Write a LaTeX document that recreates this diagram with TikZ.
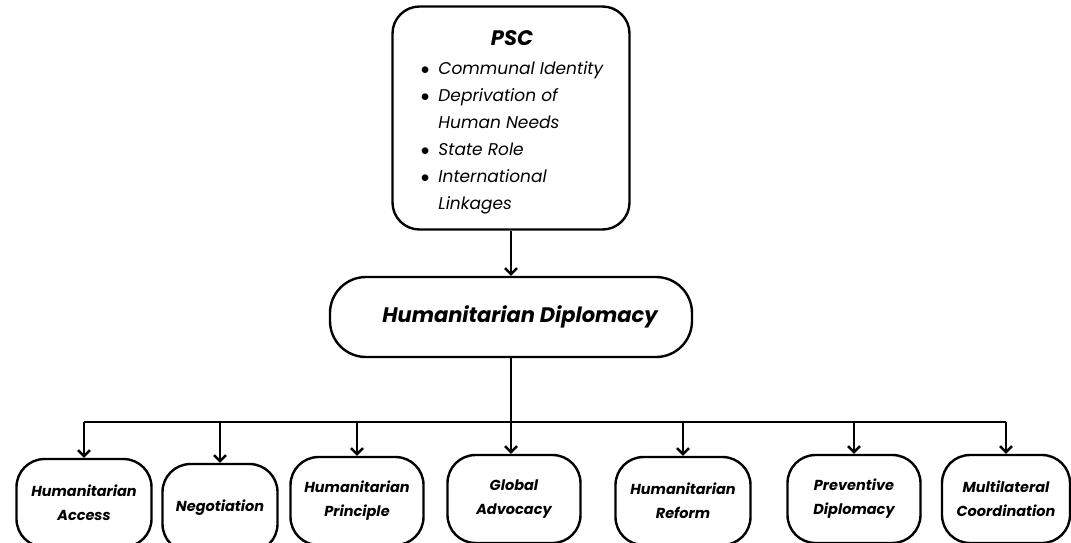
\documentclass[tikz,border=0pt]{standalone}
\usepackage{fontspec}
\setmainfont{Poppins}
\usetikzlibrary{arrows.meta, positioning}

\begin{document}
\begin{tikzpicture}[x=1pt, y=-1pt, line width=2.4pt,
    box/.style={draw, rounded corners=28pt, align=center},
    leaf/.style={box, minimum height=88pt, inner sep=2pt,
        font=\fontsize{14.5}{24}\selectfont\bfseries\itshape},
    link/.style={-{Straight Barb[length=6pt, width=12pt]}}]

        % Page frame (the bottom boxes run past the lower edge)
        \useasboundingbox (0,0) rectangle (1071,542);
        \clip (0,0) rectangle (1071,542);

        % Top box and the PSC factors inside it
        \node[box, rounded corners=27pt, minimum width=237pt, minimum height=223pt] (psc) at (511,118) {};
        \node[anchor=north, align=center, inner sep=0pt] (psclist) at (512,29)
            {{\fontsize{21}{26}\selectfont\bfseries\itshape PSC}\\[9pt]
             \fontsize{17}{27}\selectfont\itshape
             \begin{tabular}{@{}l@{\hspace{9pt}}l@{}}
                $\bullet$ & Communal Identity\\
                $\bullet$ & Deprivation of\\
                          & Human Needs\\
                $\bullet$ & State Role\\
                $\bullet$ & International\\
                          & Linkages
             \end{tabular}};

        % Middle box
        \node[box, rounded corners=36pt, minimum width=362pt, minimum height=80pt,
            font=\fontsize{21}{25}\selectfont\bfseries\itshape] (hd) at (511,317)
            {\hspace*{18pt}Humanitarian Diplomacy};

        % Bottom row of boxes
        \node[leaf, minimum width=135pt] (access) at (84,503) {Humanitarian\\Access};
        \node[leaf, minimum width=115pt] (negot) at (220,508) {Negotiation};
        \node[leaf, minimum width=133pt] (principle) at (357,501) {Humanitarian\\Principle};
        \node[leaf, minimum width=133pt] (advocacy) at (514,499) {Global\\Advocacy};
        \node[leaf, minimum width=135pt] (reform) at (683,501) {Humanitarian\\Reform};
        \node[leaf, minimum width=133pt] (preventive) at (854,499) {Preventive\\Diplomacy};
        \node[leaf, minimum width=128pt] (multi) at (1006,499) {Multilateral\\Coordination};

        % Connectors
        \coordinate (bar) at (511,422);
        \draw[link] (psc) -- (hd);
        \draw[link] (hd.south) -- (hd.south |- advocacy.north);
        \draw (access.north |- bar) -- (multi.north |- bar);
        \foreach \leafname in {access, negot, principle, reform, preventive, multi}
            \draw[link] (\leafname.north |- bar) -- (\leafname.north);

\end{tikzpicture}
\end{document}
